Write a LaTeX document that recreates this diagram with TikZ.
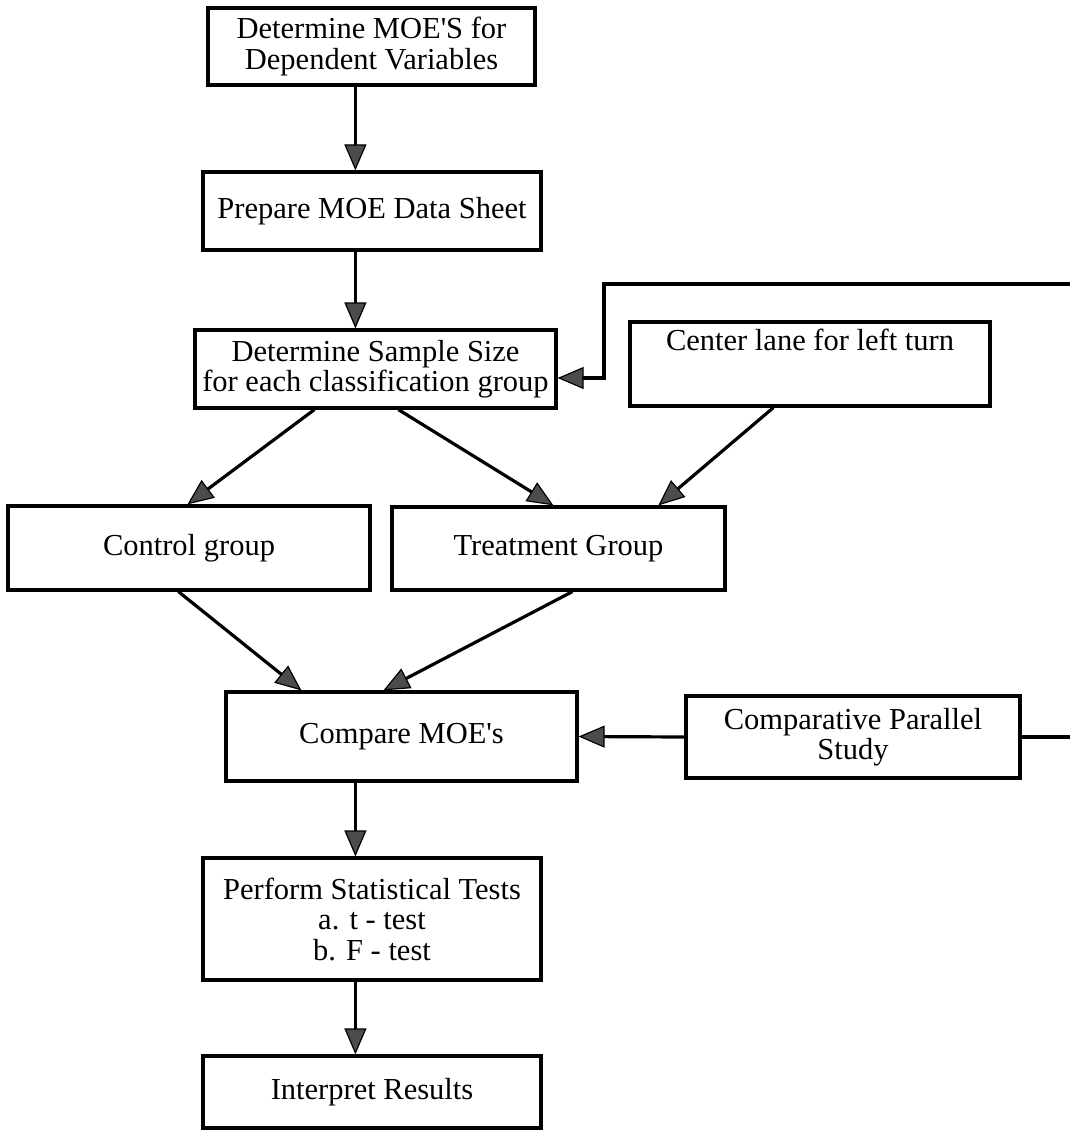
\documentclass[tikz,border=0pt]{standalone}
\usepackage{fontspec}
\setmainfont{Liberation Serif}[Ligatures=TeXOff]
\usetikzlibrary{arrows.meta,calc}
\tikzset{
  box/.style={draw, line width=3.2pt, align=center, inner sep=0pt,
    font=\fontsize{30.5}{30.5}\selectfont},
  conn/.style={line width=3.2pt},
  arr/.style={line width=3.2pt, -{Triangle[length=26pt,width=22pt,fill=black!70,line width=1.2pt]}}
}
\begin{document}
\begin{tikzpicture}[x=1pt,y=-1pt]
\useasboundingbox[fill=white] (0,0) rectangle (1070,1131);
% boxes
\node[box, minimum width=327pt, minimum height=77pt] (b1) at (371.5,46.5) {Determine MOE'S for\\Dependent Variables};
\node[box, minimum width=338pt, minimum height=78pt] (b2) at (372,211) {Prepare MOE Data Sheet};
\node[box, minimum width=361pt, minimum height=78pt] (b3) at (375.5,369) {Determine Sample Size\\for each classification group};
\node[box, minimum width=360pt, minimum height=84pt, text height=28pt, text depth=56pt] (b4) at (810,364) {Center lane for left turn};
\node[box, minimum width=362pt, minimum height=84pt] (b5) at (189,548) {Control group};
\node[box, minimum width=333pt, minimum height=83pt] (b6) at (558.5,548.5) {Treatment Group};
\node[box, minimum width=351pt, minimum height=89pt] (b7) at (401.5,736.5) {Compare MOE's};
\node[box, minimum width=334pt, minimum height=82pt] (b8) at (853,737) {Comparative Parallel\\Study};
\node[box, minimum width=338pt, minimum height=122pt] (b9) at (372,919) {Perform Statistical Tests\\a. t - test\\b. F - test};
\node[box, minimum width=338pt, minimum height=72pt] (b10) at (372,1092) {Interpret Results};
% free ends
\coordinate (fbT) at (1070,284);
\coordinate (fbK) at (604,284);
\coordinate (fbC) at (1070,737);
% connectors
\draw[arr] ($(b1.south west)+(149,0)$) -- ($(b2.north west)+(154,0)$);
\draw[arr] ($(b2.south west)+(154,0)$) -- ($(b3.north west)+(162,0)$);
\draw[arr] ($(b3.south west)+(121,0)$) -- ($(b5.north west)+(181,0)$);
\draw[arr] ($(b3.south west)+(205,0)$) -- ($(b6.north west)+(163,0)$);
\draw[arr] ($(b4.south west)+(145,0)$) -- ($(b6.north west)+(268,0)$);
\draw[arr] ($(b5.south west)+(172,0)$) -- ($(b7.north west)+(77,0)$);
\draw[arr] ($(b6.south west)+(182,0)$) -- ($(b7.north west)+(159,0)$);
\draw[arr] (b8.west) -- (b7.east);
\draw[arr] ($(b7.south west)+(131,0)$) -- ($(b9.north west)+(154,0)$);
\draw[arr] ($(b9.south west)+(154,0)$) -- ($(b10.north west)+(154,0)$);
\draw[conn] (b8.east) -- (fbC);
\draw[arr] (fbT) -- (fbK) |- ($(b3.east)+(0,9)$);
\end{tikzpicture}
\end{document}
